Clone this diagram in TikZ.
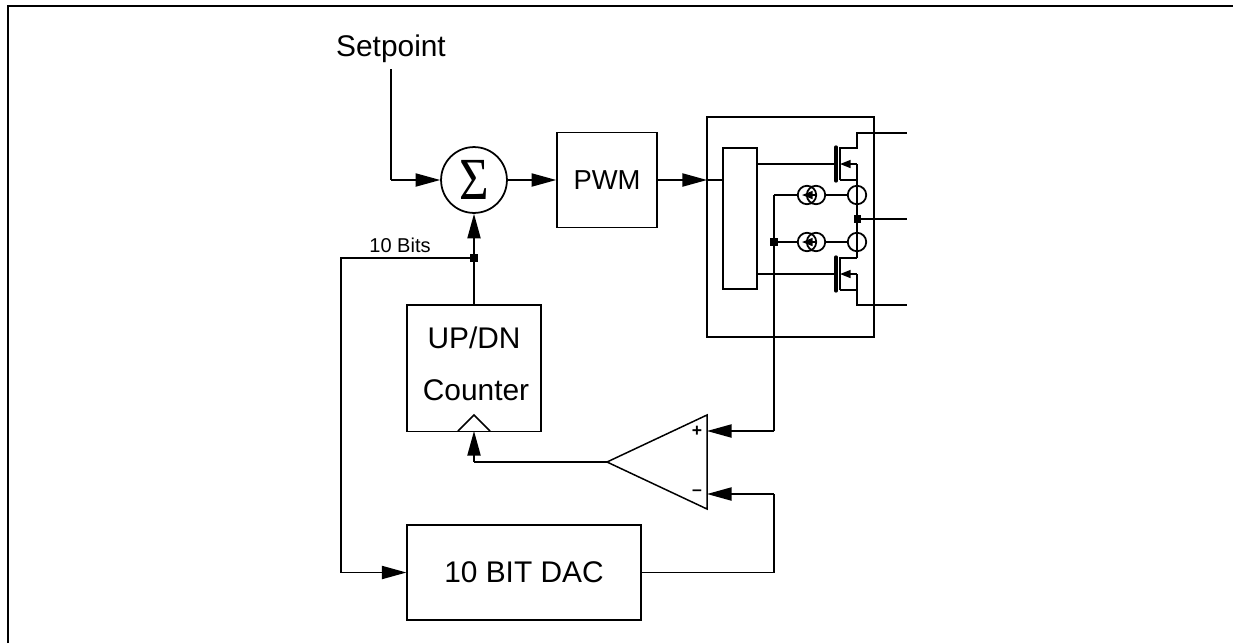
\documentclass[tikz,border=0pt]{standalone}
\usepackage{fontspec}
\setmainfont{Liberation Sans}
\newfontfamily\sigmafont{Liberation Serif}
\usepackage{tikz}
\usetikzlibrary{arrows.meta}
\tikzset{
  wire/.style={ line width=0.85pt },
  sigwire/.style={ line width=0.85pt, -{Triangle[length=14pt,width=7.5pt]} },
  smallwire/.style={ line width=0.85pt, -{Triangle[length=6pt,width=4.5pt]} },
  blockbox/.style={ draw, line width=0.85pt, inner sep=0pt, font=\fontsize{17}{20}\selectfont, align=center },
  junction/.style={ fill=black, inner sep=0pt, minimum size=4pt },
  ringnode/.style={ draw, circle, line width=1pt, inner sep=0pt, minimum size=10.5pt },
  gatebar/.style={ line width=1.9pt, line cap=round }
}
\begin{document}
\begin{tikzpicture}[x=0.02cm, y=-0.02cm]
      \useasboundingbox (0, 0) rectangle (1233, 643);
      \draw[line width=1.1pt] (8, 643) -- (8, 6) -- (1233, 6);
      % left side blocks
      \node[font=\fontsize{17}{20}\selectfont] (setpoint) at (391, 49) {Setpoint};
      \coordinate (setstart) at (391, 69);
      \node[ringnode, minimum size=37.5pt] (sum) at (474, 180) {\scalebox{0.85}[1]{\sigmafont\fontsize{34}{34}\selectfont Σ}};
      \node[blockbox, minimum width=57pt, minimum height=54pt, font=\fontsize{15.6}{20}\selectfont] (pwm) at (607, 180) {PWM};
      \node[blockbox, minimum width=76pt, minimum height=72pt] (counter) at (474, 368) {};
      \node[font=\fontsize{17}{20}\selectfont] (counterup) at (474, 338) {UP/DN};
      \node[font=\fontsize{17}{20}\selectfont] (countername) at (476, 390) {Counter};
      \node[blockbox, minimum width=133pt, minimum height=54pt] (dac) at (524, 572.5) {10 BIT DAC};
      \node[junction] (tap) at (474, 258) {};
      \node[font=\fontsize{11.4}{14}\selectfont] (bits) at (400, 245) {10 Bits};
      \coordinate (clka) at (458, 431);
      \coordinate (clkb) at (474, 415);
      \coordinate (clkc) at (490, 431);
      \coordinate (clkin) at (474, 431);
      \draw[wire] (clka) -- (clkb) -- (clkc);
      % driver stage
      \node[blockbox, minimum width=95pt, minimum height=125pt] (driver) at (790.5, 227) {};
      \node[blockbox, minimum width=19.4pt, minimum height=80pt] (logic) at (740, 218.5) {};
      \coordinate (drvin) at (707, 180);
      \draw[sigwire] (pwm) -- (drvin);
      \draw[wire] (drvin) -- (drvin -| logic.west);
      % high side
      \coordinate (hgate) at (836, 164);
      \coordinate (hsrc) at (857, 164);
      \coordinate (hhi) at (857, 148);
      \coordinate (hlo) at (857, 180);
      \coordinate (htop) at (907, 133);
      \draw[wire] (logic.east |- hgate) -- (hgate);
      \draw[gatebar] (836, 147) -- (836, 181);
      \draw[wire] (840, 180) -- (840, 148) -- (hhi) -- (857, 133) -- (htop);
      \draw[smallwire] (hsrc) -- (840, 164);
      \draw[wire] (840, 180) -- (hlo) -- (hsrc);
      % low side
      \coordinate (lgate) at (836, 274);
      \coordinate (lsrc) at (857, 274);
      \coordinate (lhi) at (857, 258);
      \coordinate (llo) at (857, 290);
      \coordinate (lbot) at (907, 305);
      \draw[wire] (logic.east |- lgate) -- (lgate);
      \draw[gatebar] (836, 257) -- (836, 291);
      \draw[wire] (840, 290) -- (840, 258) -- (lhi);
      \draw[smallwire] (lsrc) -- (840, 274);
      \draw[wire] (840, 290) -- (llo) -- (lsrc);
      \draw[wire] (llo) -- (857, 305) -- (lbot);
      % sense path
      \node[ringnode] (rhi) at (857, 195) {};
      \node[ringnode] (rlo) at (857, 242) {};
      \node[junction] (mid) at (857, 219) {};
      \coordinate (out) at (907, 219);
      \node[ringnode] (shia) at (807, 195) {};
      \node[ringnode] (shib) at (816, 195) {};
      \node[ringnode] (sloa) at (807, 242) {};
      \node[ringnode] (slob) at (816, 242) {};
      \node[junction] (sense) at (774, 242) {};
      \coordinate (bend) at (774, 195);
      \draw[wire] (hlo) -- (lhi);
      \draw[wire] (mid) -- (out);
      \draw[wire] (rhi) -- (shib.east);
      \draw[wire] (rlo) -- (slob.east);
      \draw[wire] (shia.west) -- (bend);
      \draw[wire] (sloa.west) -- (sense);
      \draw[smallwire] (shib.center) -- (802, 195);
      \draw[smallwire] (slob.center) -- (802, 242);
      % comparator
      \coordinate (opa) at (707, 415);
      \coordinate (opb) at (707, 509);
      \coordinate (opc) at (607, 462);
      \draw[wire] (opa) -- (opb) -- (opc) -- cycle;
      \node[font=\bfseries\fontsize{10}{10}\selectfont, inner sep=0pt] (plus) at (697, 431) {+};
      \node[font=\bfseries\fontsize{10}{10}\selectfont, inner sep=0pt] (minus) at (697, 493) {--};
      \coordinate (opplus) at (707, 431);
      \coordinate (opminus) at (707, 494);
      \coordinate (pluscorner) at (774, 431);
      \coordinate (minuscorner) at (774, 494);
      \coordinate (dacout) at (774, 572.5);
      \coordinate (ctrcorner) at (474, 462);
      % wiring
      \draw[wire] (setstart) -- (391, 180);
      \draw[sigwire] (391, 180) -- (sum.west);
      \draw[sigwire] (sum.east) -- (pwm.west);
      \draw[wire] (counter.north) -- (tap);
      \draw[sigwire] (tap) -- (sum.south);
      \draw[wire] (tap) -- (341, 258) -- (341, 572.5);
      \draw[sigwire] (341, 572.5) -- (dac.west);
      \draw[wire] (bend) -- (pluscorner);
      \draw[sigwire] (pluscorner) -- (opplus);
      \draw[wire] (dac.east) -- (dacout) -- (minuscorner);
      \draw[sigwire] (minuscorner) -- (opminus);
      \draw[wire] (opc) -- (ctrcorner);
      \draw[sigwire] (ctrcorner) -- (clkin);
    \end{tikzpicture}
\end{document}
